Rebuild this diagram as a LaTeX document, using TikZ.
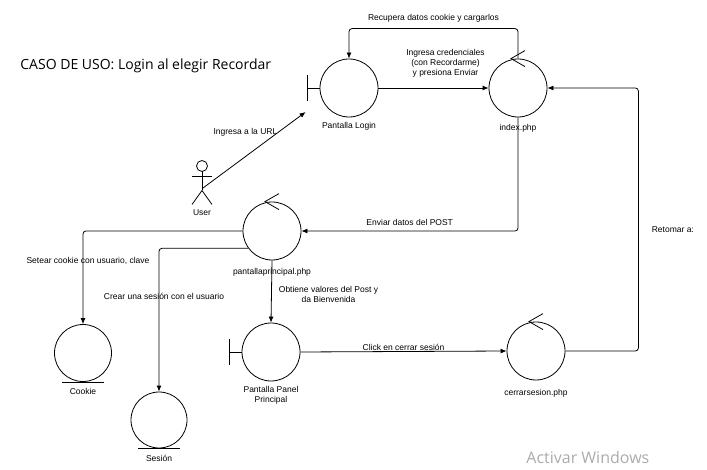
\documentclass[tikz,border=0pt]{standalone}
\usepackage{fontspec}
\setmainfont{Liberation Sans}
\newfontfamily\titlefont{Open Sans}
\usetikzlibrary{arrows.meta, calc, positioning}

\tikzset{
  obj/.style = {circle, draw, minimum size=58pt, inner sep=0pt},
  lbl/.style = {font=\fontsize{8.5}{10}\selectfont, align=center, inner sep=1pt},
  msg/.style = {-{Latex[length=6pt,width=5pt]}, rounded corners=3pt},
}

\begin{document}
\begin{tikzpicture}[x=1pt, y=-1pt, line width=0.8pt]
    \useasboundingbox (0,0) rectangle (707,470);
    \node[font=\titlefont\fontsize{14}{16}\selectfont, anchor=west, inner sep=0pt] (title) at (20,66) {CASO DE USO: Login al elegir Recordar};

    % objetos
    \node[obj] (login) at (349,88) {};
    \node[obj] (index) at (518,88) {};
    \node[obj] (principal) at (272,231) {};
    \node[obj] (panel) at (271,352) {};
    \node[obj] (cerrar) at (536,351) {};
    \node[obj, minimum size=57pt] (cookie) at (83,353) {};
    \node[obj, minimum size=56pt] (sesion) at (159,420) {};

    % boundary
    \foreach \n in {login, panel}{
      \draw (\n.west) -- ++(-12,0) coordinate (\n-bar);
      \draw ($(\n-bar)+(0,-13)$) -- ($(\n-bar)+(0,13)$);
    }
    % control
    \foreach \n in {index, principal, cerrar}{
      \draw ($(\n.north)+(7,-8)$) -- ($(\n.north)+(-7,0)$) -- ($(\n.north)+(7,8)$);
    }
    % entity
    \foreach \n in {cookie, sesion}{
      \draw ($(\n.south)+(-21,0)$) -- ($(\n.south)+(21,0)$);
    }

    % actor
    \coordinate (user) at (202,166);
    \draw (user) circle (5.5pt);
    \draw ($(user)+(0,5.5)$) -- ++(0,19) coordinate (user-hip);
    \draw ($(user)+(-10,10)$) -- ++(20,0);
    \draw ($(user-hip)+(-10,14)$) -- (user-hip) -- ($(user-hip)+(10,14)$);
    \coordinate (user-hand) at ($(user)+(1,22)$);
    \coordinate (login-in) at ($(login-bar)+(-2,24)$);

    % etiquetas
    \node[lbl, below=4pt of login] (login-lbl) {Pantalla Login};
    \node[lbl, below=6pt of index] (index-lbl) {index.php};
    \node[lbl, below=7pt of principal] (principal-lbl) {pantallaprincipal.php};
    \node[lbl, below=4pt of panel] (panel-lbl) {Pantalla Panel\\Principal};
    \node[lbl, below=8pt of cerrar] (cerrar-lbl) {cerrarsesion.php};
    \node[lbl, below=5pt of cookie] (cookie-lbl) {Cookie};
    \node[lbl, below=5pt of sesion] (sesion-lbl) {Sesión};
    \node[lbl, below=5pt of user-hip, yshift=-13pt] (user-lbl) {User};

    % mensajes
    \draw[msg] (user-hand) -- node[lbl, pos=0.55, above=9pt, xshift=-14pt] {Ingresa a la URL} (login-in);
    \draw[msg] (login.east) -- node[lbl, midway, above=9pt, xshift=12pt] {Ingresa credenciales\\(con Recordarme)\\y presiona Enviar} (index.west);
    \draw[msg] (index.north) -- ++(0,-30) -| node[lbl, pos=0.25, above=5pt] {Recupera datos cookie y cargarlos} (login.north);
    \draw[msg] (index.south) |- node[lbl, pos=0.75, above=4pt] {Enviar datos del POST} (principal.east);
    \draw[msg] (principal.west) -| node[lbl, pos=0.66, xshift=5pt] {Setear cookie con usuario, clave} (cookie.north);
    \draw[msg] (principal.216) -| node[lbl, pos=0.667, xshift=5pt] {Crear una sesión con el usuario} (sesion.north);
    \draw[msg] (principal.south) -- node[lbl, midway, right=6pt, yshift=-3pt] {Obtiene valores del Post y\\da Bienvenida} (panel.north);
    \draw[msg] (panel.east) -- node[lbl, midway, above=0pt] {Click en cerrar sesión} (cerrar.west);
    \draw[msg] (cerrar.east) -- ++(73,0) |- node[lbl, pos=0.23, right=12pt] {Retomar a:} (index.east);

    \node[font=\titlefont\fontsize{16}{19}\selectfont, text=black!33, anchor=west, inner sep=0pt] (marca) at (526,457) {Activar Windows};
\end{tikzpicture}
\end{document}
